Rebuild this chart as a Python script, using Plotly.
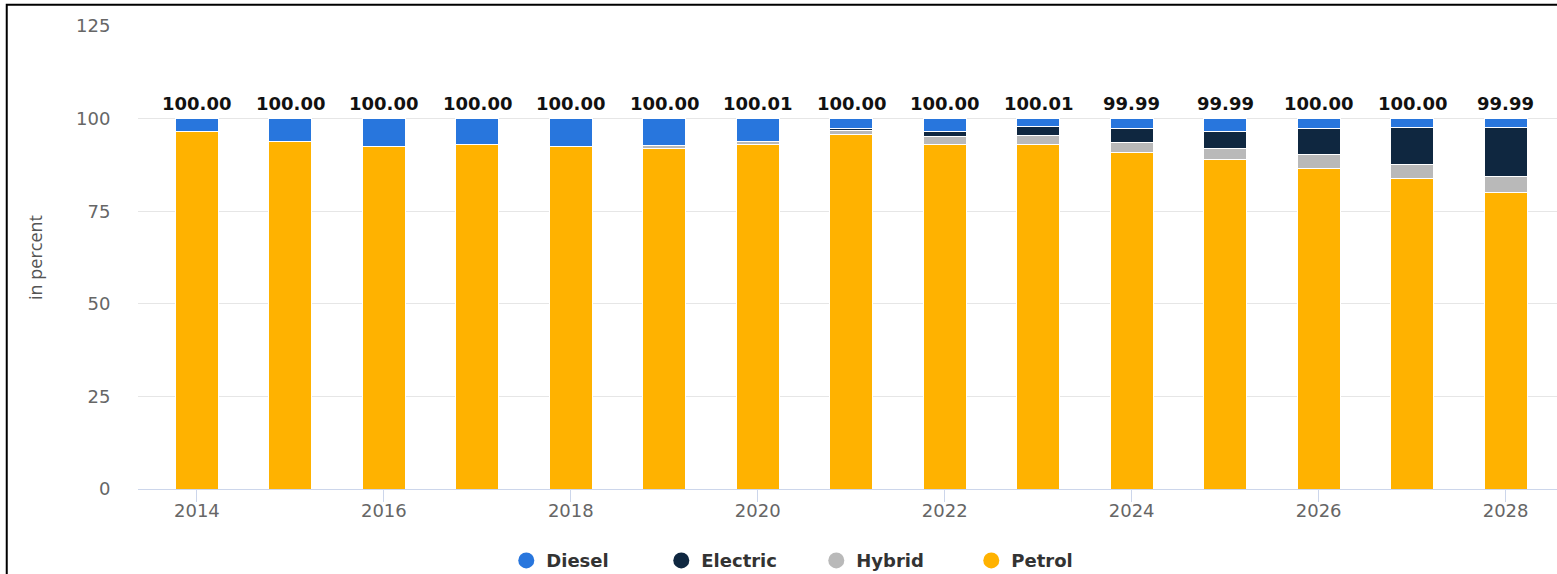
import plotly.graph_objects as go

years = list(range(2014, 2029))
diesel   = [3.5, 6.2, 7.4, 7.1, 7.5, 7.2, 6.21, 2.7, 3.4, 2.01, 2.79, 3.39, 2.8, 2.5, 2.49]
electric = [0, 0, 0, 0, 0, 0, 0, 0.4, 1.5, 2.6, 3.7, 4.8, 6.9, 10.0, 13.2]
hybrid   = [0, 0, 0, 0, 0, 0.9, 0.8, 1.2, 2.1, 2.4, 2.6, 2.9, 3.7, 3.8, 4.2]
petrol   = [96.5, 93.8, 92.6, 92.9, 92.5, 91.9, 93.0, 95.7, 93.0, 93.0, 90.9, 88.9, 86.6, 83.7, 80.1]

series = [("Petrol", petrol, "#ffb200"), ("Hybrid", hybrid, "#b9b9b9"),
          ("Electric", electric, "#0f2740"), ("Diesel", diesel, "#2876dd")]
legend_order = ["Diesel", "Electric", "Hybrid", "Petrol"]

fig = go.Figure()
for name, vals, col in series:
    fig.add_trace(go.Bar(x=years, y=vals, name=name, marker=dict(color=col, line=dict(color="white", width=1)),
                         width=0.46, showlegend=False))
for name, vals, col in sorted(series, key=lambda s: legend_order.index(s[0])):
    fig.add_trace(go.Scatter(x=[None], y=[None], mode="markers", name=name,
                             marker=dict(color=col, size=19, symbol="circle")))

totals = [round(d + e + h + p, 2) for d, e, h, p in zip(diesel, electric, hybrid, petrol)]
for yr, t in zip(years, totals):
    fig.add_annotation(x=yr, y=t, text=f"{t:.2f}", showarrow=False, yanchor="bottom", yshift=3,
                       font=dict(family="DejaVu Sans", size=18, color="#111111", weight="bold"))

fig.update_layout(
    barmode="stack",
    width=1557, height=574,
    margin=dict(l=138, r=0, t=26, b=85, autoexpand=False),
    plot_bgcolor="white", paper_bgcolor="white",
    font=dict(family="DejaVu Sans", color="#666666"),
    legend=dict(orientation="h", x=0.478, xanchor="center", y=-0.115, yanchor="top", traceorder="normal",
                font=dict(family="DejaVu Sans", size=18, color="#333333", weight="bold"),
                entrywidth=110, entrywidthmode="pixels"),
    shapes=[dict(type="rect", xref="paper", yref="paper", x0=-0.0925, x1=1.2, y0=-0.3, y1=1.046,
                 line=dict(color="black", width=2))],
)
fig.update_xaxes(range=[2013.37, 2028.55], tickmode="array", tickvals=years[::2], ticktext=[str(y) for y in years[::2]],
                 showgrid=False, showline=True, linecolor="#ccd6eb", linewidth=1,
                 ticks="outside", ticklen=12, tickcolor="#ccd6eb", automargin=False, ticklabelstandoff=-7,
                 tickfont=dict(family="DejaVu Sans", size=18, color="#666666"))
fig.update_yaxes(range=[0, 125], tickvals=[0, 25, 50, 75, 100, 125], showgrid=True, gridcolor="#e6e6e6",
                 zeroline=False, tickfont=dict(family="DejaVu Sans", size=18, color="#666666"),
                 ticks="outside", ticklen=23, tickcolor="rgba(0,0,0,0)", automargin=False,
                 title=dict(text="in percent", font=dict(family="Open Sans", size=18, color="#555555"), standoff=28))

fig.write_html("out.html", config={"displayModeBar": False},
               post_script="document.body.style.margin='0';document.body.style.padding='0';")
